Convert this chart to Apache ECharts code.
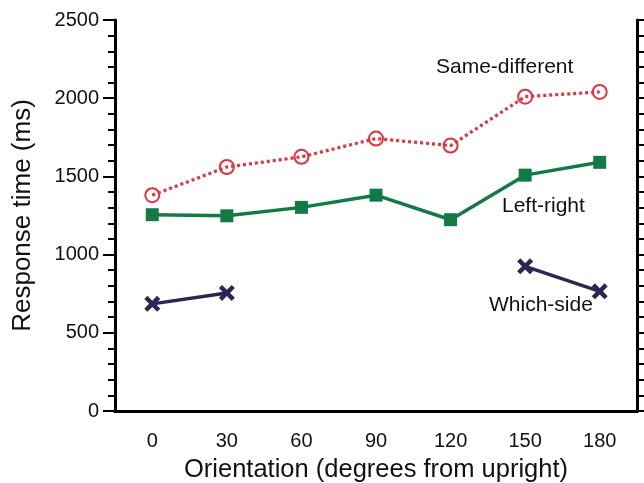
<!DOCTYPE html>
<html>
<head>
<meta charset="utf-8">
<script src="https://cdn.jsdelivr.net/npm/echarts@6/dist/echarts.min.js"></script>
<style>
  html, body { margin: 0; padding: 0; background: #fff; }
  #chart { width: 644px; height: 483px; }
</style>
</head>
<body>
<div id="chart"></div>
<script>
// orientation categories (degrees from upright)
const orientations = ['0', '30', '60', '90', '120', '150', '180'];
// response times in ms
const sameDifferent = [1380, 1560, 1625, 1742, 1697, 2010, 2040];
const leftRight = [1255, 1248, 1302, 1380, 1223, 1508, 1590];
const whichSide = [685, 755, null, null, null, 925, 765];

const FONT = '"Liberation Sans", Arial, sans-serif';
const crossPath = 'path://M0,2 L2,0 L5,3 L8,0 L10,2 L7,5 L10,8 L8,10 L5,7 L2,10 L0,8 L3,5 Z';

var chart = echarts.init(document.getElementById('chart'));
chart.setOption({
  animation: false,
  backgroundColor: '#fff',
  grid: { left: 115, right: 7, top: 20, bottom: 72, outerBoundsMode: 'none', containLabel: false },
  xAxis: [{
    type: 'category',
    data: orientations,
    boundaryGap: true,
    name: 'Orientation (degrees from upright)',
    nameLocation: 'middle',
    nameGap: 46,
    nameTextStyle: { fontFamily: FONT, fontSize: 25.5, color: '#111' },
    axisLine: { lineStyle: { color: '#000', width: 3 } },
    axisTick: { alignWithLabel: true, length: 11, lineStyle: { color: '#000', width: 2 } },
    axisLabel: { fontFamily: FONT, fontSize: 20, color: '#111', margin: 20 },
    splitLine: { show: false }
  }, {
    type: 'category',
    data: orientations,
    position: 'top',
    axisLine: { lineStyle: { color: '#000', width: 3 } },
    axisTick: { show: false },
    axisLabel: { show: false },
    splitLine: { show: false }
  }],
  yAxis: [{
    type: 'value',
    min: 0,
    max: 2500,
    interval: 500,
    name: 'Response time (ms)',
    nameLocation: 'middle',
    nameGap: 79,
    nameTextStyle: { fontFamily: FONT, fontSize: 26, color: '#111' },
    axisLine: { show: true, lineStyle: { color: '#000', width: 3 } },
    axisTick: { show: true, length: 12, lineStyle: { color: '#000', width: 2 } },
    minorTick: { show: true, splitNumber: 5, length: 7, lineStyle: { color: '#000', width: 2 } },
    axisLabel: { fontFamily: FONT, fontSize: 20, color: '#111', margin: 16, formatter: function (v) { return String(v); } },
    splitLine: { show: false }
  }, {
    type: 'value',
    min: 0,
    max: 2500,
    interval: 500,
    position: 'right',
    axisLine: { show: true, lineStyle: { color: '#000', width: 3 } },
    axisTick: { show: true, length: 12, lineStyle: { color: '#000', width: 2 } },
    minorTick: { show: true, splitNumber: 5, length: 7, lineStyle: { color: '#000', width: 2 } },
    axisLabel: { show: false },
    splitLine: { show: false }
  }],
  series: [
    {
      name: 'Same-different',
      type: 'line',
      data: sameDifferent,
      symbol: 'circle',
      symbolSize: 14,
      lineStyle: { color: '#e2333d', width: 3.2, type: [3, 3] },
      itemStyle: { color: 'rgba(255,255,255,0)', borderColor: '#e2333d', borderWidth: 2 },
      z: 3
    },
    {
      name: 'Left-right',
      type: 'line',
      data: leftRight,
      symbol: 'rect',
      symbolSize: 13,
      lineStyle: { color: '#137a46', width: 3.5 },
      itemStyle: { color: '#137a46' },
      z: 3
    },
    {
      name: 'Which-side',
      type: 'line',
      data: whichSide,
      connectNulls: false,
      symbol: crossPath,
      symbolSize: 16,
      lineStyle: { color: '#2a2658', width: 3.5 },
      itemStyle: { color: '#2a2658' },
      z: 3
    }
  ],
  graphic: [
    { type: 'text', x: 436, y: 67, style: { text: 'Same-different', font: '21px ' + FONT, fill: '#111', verticalAlign: 'middle' } },
    { type: 'text', x: 502, y: 206, style: { text: 'Left-right', font: '21px ' + FONT, fill: '#111', verticalAlign: 'middle' } },
    { type: 'text', x: 489, y: 305, style: { text: 'Which-side', font: '21px ' + FONT, fill: '#111', verticalAlign: 'middle' } }
  ]
});
</script>
</body>
</html>
